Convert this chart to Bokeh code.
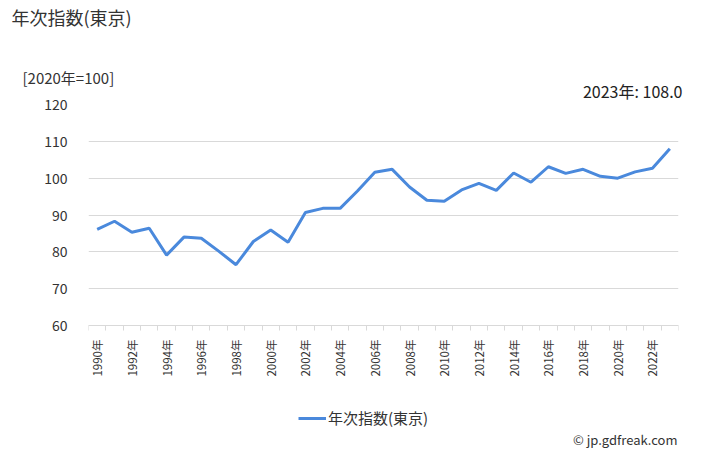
import math
from bokeh.plotting import figure
from bokeh.models import (FixedTicker, Legend, LegendItem, ColumnDataSource, Range1d, Title, Label)
from bokeh.embed import file_html
from bokeh.resources import INLINE

years = list(range(1990, 2024))
values = [86.1, 88.3, 85.3, 86.4, 79.1, 84.0, 83.7, 80.2, 76.5, 82.8,
          85.9, 82.6, 90.7, 91.8, 91.8, 96.5, 101.6, 102.4, 97.6, 94.0,
          93.7, 96.8, 98.6, 96.7, 101.4, 98.9, 103.1, 101.3, 102.4, 100.5,
          100.0, 101.7, 102.7, 108.0]
y_ticks = [60, 70, 80, 90, 100, 110, 120]
x_label_years = list(range(1990, 2023, 2))
series_name = "年次指数(東京)"
title_text = "年次指数(東京)"
unit_text = "[2020年=100]"
last_text = "2023年: 108.0"
credit_text = "© jp.gdfreak.com"

FONT = "Noto Sans CJK JP"
BLUE = "#4a89dc"
GRID = "#d9d9d9"

W, H = 728, 450
L, R, TOP = 88, 50, 103
PLOT_W, PLOT_H = 590, 221          # the 60..120 chart area
FRAME_H = H - TOP                  # frame runs to the bottom of the window
Y0, Y1 = 60, 120
y_start = Y1 - FRAME_H * (Y1 - Y0) / PLOT_H
x_lo, x_hi = years[0] - 0.5, years[-1] + 0.5
px_per_year = PLOT_W / (x_hi - x_lo)

p = figure(width=W, height=H, output_backend="svg", toolbar_location=None,
           title=None, x_range=Range1d(x_lo, x_hi), y_range=Range1d(y_start, Y1),
           frame_width=PLOT_W, frame_height=FRAME_H,
           min_border_left=L, min_border_right=R, min_border_top=0, min_border_bottom=0)
p.outline_line_color = None
p.background_fill_color = "white"
p.border_fill_color = "white"

src = ColumnDataSource(dict(x=years, y=values))
r = p.line("x", "y", source=src, line_color=BLUE, line_width=3)

# y axis
p.yaxis.ticker = FixedTicker(ticks=y_ticks)
p.yaxis.axis_line_color = None
p.yaxis.major_tick_line_color = None
p.yaxis.minor_tick_line_color = None
p.yaxis.major_tick_out = 0
p.yaxis.major_tick_in = 0
p.yaxis.major_label_standoff = 21
p.yaxis.major_label_text_font = FONT
p.yaxis.major_label_text_font_size = "14px"
p.yaxis.major_label_text_color = "#333333"

# x axis, drawn at y = 60
p.xaxis.fixed_location = Y0
p.xaxis.ticker = FixedTicker(ticks=x_label_years,
                             minor_ticks=[y - 0.5 for y in years] + [years[-1] + 0.5])
p.xaxis.major_label_overrides = {y: f"{y}年" for y in x_label_years}
p.xaxis.axis_line_color = GRID
p.xaxis.major_tick_line_color = None
p.xaxis.major_tick_out = 0
p.xaxis.major_tick_in = 0
p.xaxis.minor_tick_line_color = GRID
p.xaxis.minor_tick_out = 5
p.xaxis.minor_tick_in = 0
p.xaxis.major_label_orientation = math.pi / 2
p.xaxis.major_label_standoff = 9
p.xaxis.major_label_text_font = FONT
p.xaxis.major_label_text_font_size = "11.5px"
p.xaxis.major_label_text_color = "#333333"

p.xgrid.grid_line_color = None
p.ygrid.ticker = FixedTicker(ticks=y_ticks)
p.ygrid.grid_line_color = GRID

def title(text, size, color, align, offset, standoff, valign="bottom"):
    return Title(text=text, align=align, offset=offset, standoff=standoff,
                 vertical_align=valign, text_font=FONT, text_font_size=size,
                 text_font_style="normal", text_color=color)

# rows above the frame (first added = closest to the frame)
p.add_layout(title(last_text, "16px", "#222222", "right", -4, 3), "above")
p.add_layout(title(unit_text, "15px", "#333333", "left", -66, -25), "above")
p.add_layout(title(" ", "1px", "#ffffff", "left", 0, 37), "above")
p.add_layout(title(title_text, "18px", "#333333", "left", -77, 7, "top"), "above")

# legend inside the (extended) frame, below the x axis labels
legend = Legend(items=[LegendItem(label=series_name, renderers=[r])],
                location=(210, 23), orientation="horizontal",
                label_text_font=FONT, label_text_font_size="15px",
                label_text_color="#333333", glyph_width=28, label_standoff=2,
                border_line_color=None, background_fill_alpha=0,
                padding=0, margin=0, spacing=0)
p.add_layout(legend, "center")

# credit line at the bottom right
credit_y = Y1 - (438 - TOP) * (Y1 - Y0) / PLOT_H
p.add_layout(Label(x=x_hi - 1.0 / px_per_year, y=credit_y, text=credit_text,
                   text_font=FONT, text_font_size="13px", text_color="#333333",
                   text_align="right", text_baseline="middle"))

open("out.html", "w").write(file_html(p, INLINE))
